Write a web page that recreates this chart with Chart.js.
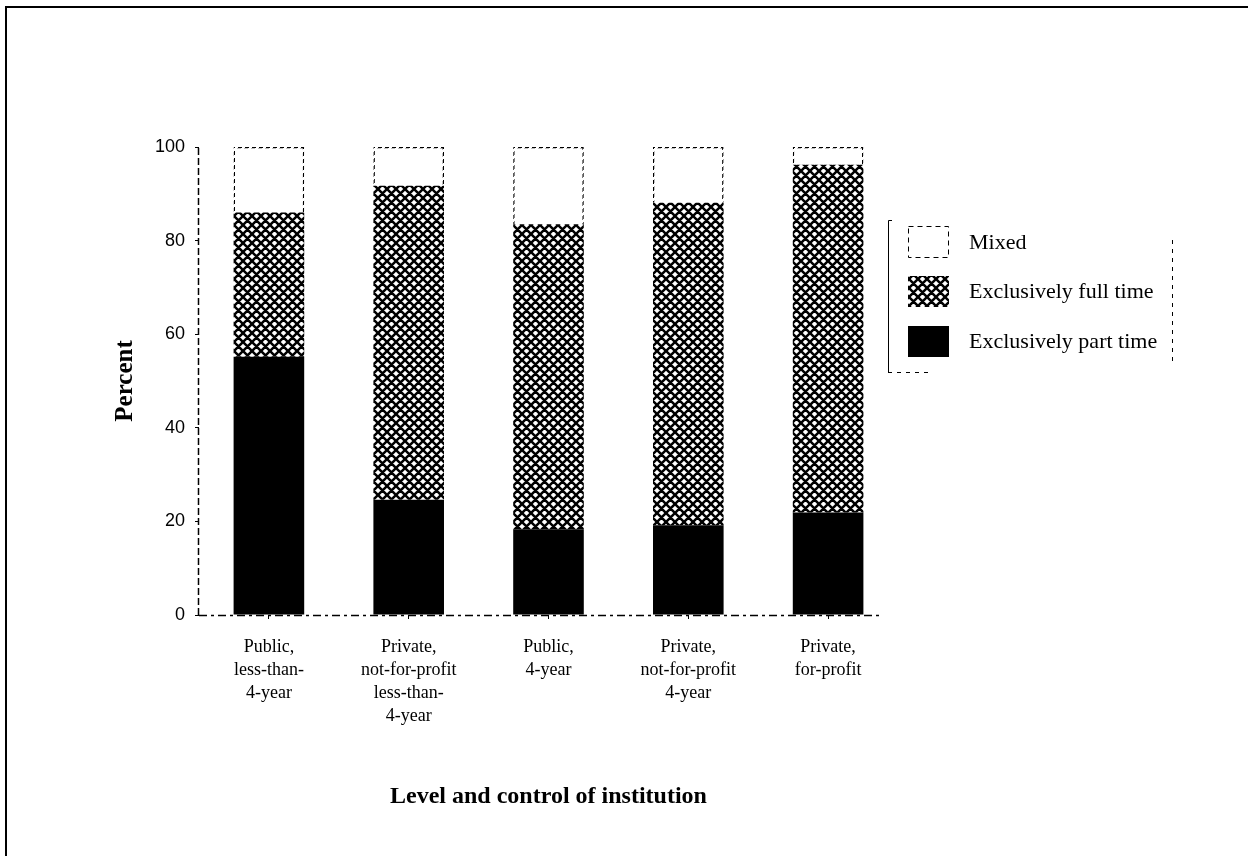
<!DOCTYPE html>
<html><head><meta charset="utf-8">
<script src="https://cdn.jsdelivr.net/npm/chart.js@4.4.0/dist/chart.umd.min.js"></script>
<style>html,body{margin:0;padding:0;background:#fff;} canvas{display:block;}</style>
</head><body>
<canvas id="c" width="1248" height="856"></canvas>
<script>
const categories = [
  ["Public,", "less-than-", "4-year"],
  ["Private,", "not-for-profit", "less-than-", "4-year"],
  ["Public,", "4-year"],
  ["Private,", "not-for-profit", "4-year"],
  ["Private,", "for-profit"]
];
const partTime = [55.2, 24.6, 18.3, 19.2, 21.9];
const fullTime = [30.8, 67.1, 65.2, 68.9, 74.3];
const mixed = [14.0, 8.3, 16.5, 11.9, 3.8];
const seriesLabels = ["Exclusively part time", "Exclusively full time", "Mixed"];
const yTicks = [0, 20, 40, 60, 80, 100];
const xTitle = "Level and control of institution";
const yTitle = "Percent";

function hatchPattern() {
  const s = 9, c = document.createElement('canvas');
  c.width = s; c.height = s;
  const x = c.getContext('2d');
  x.fillStyle = '#fff'; x.fillRect(0, 0, s, s);
  x.strokeStyle = '#000'; x.lineWidth = 2.5;
  x.beginPath();
  for (const o of [-s, 0, s]) {
    x.moveTo(o, 0); x.lineTo(o + s, s);
    x.moveTo(o + s, 0); x.lineTo(o, s);
  }
  x.stroke();
  return x.createPattern(c, 'repeat');
}
function dashPattern() {
  const s = 7, c = document.createElement('canvas');
  c.width = s; c.height = s;
  const x = c.getContext('2d');
  x.fillStyle = '#000';
  for (let i = 0; i < s; i++) for (let j = 0; j < s; j++) {
    if ((i + j) % s < 4) x.fillRect(i, j, 1, 1);
  }
  return x.createPattern(c, 'repeat');
}
const hatch = hatchPattern();
const dash = dashPattern();

const framePlugin = {
  id: 'frame',
  beforeDraw(chart) {
    const ctx = chart.ctx;
    ctx.save();
    ctx.fillStyle = '#fff';
    ctx.fillRect(0, 0, chart.width, chart.height);
    ctx.strokeStyle = '#000';
    ctx.lineWidth = 2;
    ctx.beginPath();
    ctx.moveTo(6, chart.height);
    ctx.lineTo(6, 7);
    ctx.lineTo(chart.width, 7);
    ctx.stroke();
    ctx.restore();
  },
  afterDatasetsDraw(chart) {
    const a = chart.chartArea, ctx = chart.ctx;
    ctx.save();
    ctx.strokeStyle = '#000';
    ctx.lineWidth = 1.5;
    ctx.setLineDash([7, 3]);
    ctx.beginPath();
    ctx.moveTo(a.left - 0.5, a.bottom);
    ctx.lineTo(a.left - 0.5, a.top);
    ctx.stroke();
    ctx.setLineDash([8, 4, 3, 4]);
    ctx.beginPath();
    ctx.moveTo(a.left, a.bottom + 0.5);
    ctx.lineTo(a.right - 18, a.bottom + 0.5);
    ctx.stroke();
    ctx.restore();
  }
};

const legendPlugin = {
  id: 'customLegend',
  afterDraw(chart) {
    const ctx = chart.ctx;
    ctx.save();
    const ds = chart.data.datasets.slice().reverse();
    const rowsY = [242, 291, 341];
    ds.forEach((d, i) => {
      const y = rowsY[i];
      ctx.fillStyle = d.legendFill;
      ctx.fillRect(908, y - 15, 41, 31);
      if (d.legendDashed) {
        ctx.setLineDash([5, 4]);
        ctx.strokeStyle = '#000';
        ctx.lineWidth = 1;
        ctx.strokeRect(908.5, y - 15.5, 40, 31);
        ctx.setLineDash([]);
      }
      ctx.fillStyle = '#000';
      ctx.font = "22px 'Liberation Serif', serif";
      ctx.textBaseline = 'middle';
      ctx.textAlign = 'left';
      ctx.fillText(d.label, 969, y + 1);
    });
    ctx.strokeStyle = '#000';
    ctx.lineWidth = 1;
    ctx.beginPath();
    ctx.moveTo(892, 220.5); ctx.lineTo(888.5, 220.5); ctx.lineTo(888.5, 372);
    ctx.stroke();
    ctx.setLineDash([4, 5]);
    ctx.beginPath();
    ctx.moveTo(888, 372.5); ctx.lineTo(930, 372.5);
    ctx.moveTo(1172.5, 240); ctx.lineTo(1172.5, 366);
    ctx.stroke();
    ctx.restore();
  }
};

new Chart(document.getElementById('c'), {
  type: 'bar',
  data: {
    labels: categories,
    datasets: [
      { label: seriesLabels[0], data: partTime, backgroundColor: '#000', legendFill: '#000', borderWidth: 0 },
      { label: seriesLabels[1], data: fullTime, backgroundColor: hatch, legendFill: hatch, borderWidth: 0 },
      { label: seriesLabels[2], data: mixed, backgroundColor: '#fff', legendFill: '#fff', legendDashed: true,
        borderColor: dash, borderWidth: { top: 1.5, left: 1.5, right: 1.5, bottom: 0 }, borderSkipped: 'bottom' }
    ]
  },
  options: {
    responsive: false,
    animation: false,
    events: [],
    layout: { padding: { left: 111, right: 350, top: 147, bottom: 45 } },
    datasets: { bar: { categoryPercentage: 1, barPercentage: 0.505 } },
    plugins: { legend: { display: false }, tooltip: { enabled: false } },
    scales: {
      x: {
        stacked: true,
        grid: { display: true, drawOnChartArea: false, offset: false, tickLength: 4, color: '#000', lineWidth: 1 },
        border: { display: false },
        ticks: { color: '#000', font: { family: "'Liberation Serif', serif", size: 18, lineHeight: '23px' }, padding: 17, maxRotation: 0, autoSkip: false },
        title: { display: true, text: xTitle, color: '#000', font: { family: "'Liberation Serif', serif", size: 24, weight: 'bold' }, padding: 0 },
        afterFit(s) { s.height = 196; }
      },
      y: {
        stacked: true,
        min: yTicks[0],
        max: yTicks[yTicks.length - 1],
        afterBuildTicks(s) { s.ticks = yTicks.map(v => ({ value: v })); },
        ticks: { color: '#000', font: { family: "'Liberation Sans', sans-serif", size: 18 }, padding: 10 },
        grid: { display: true, drawOnChartArea: false, tickLength: 4, color: '#000', lineWidth: 1 },
        border: { display: false },
        title: { display: true, text: yTitle, color: '#000', font: { family: "'Liberation Serif', serif", size: 25, weight: 'bold' }, padding: 0 },
        afterFit(s) { s.width = 88; }
      }
    }
  },
  plugins: [framePlugin, legendPlugin]
});
</script>
</body></html>
